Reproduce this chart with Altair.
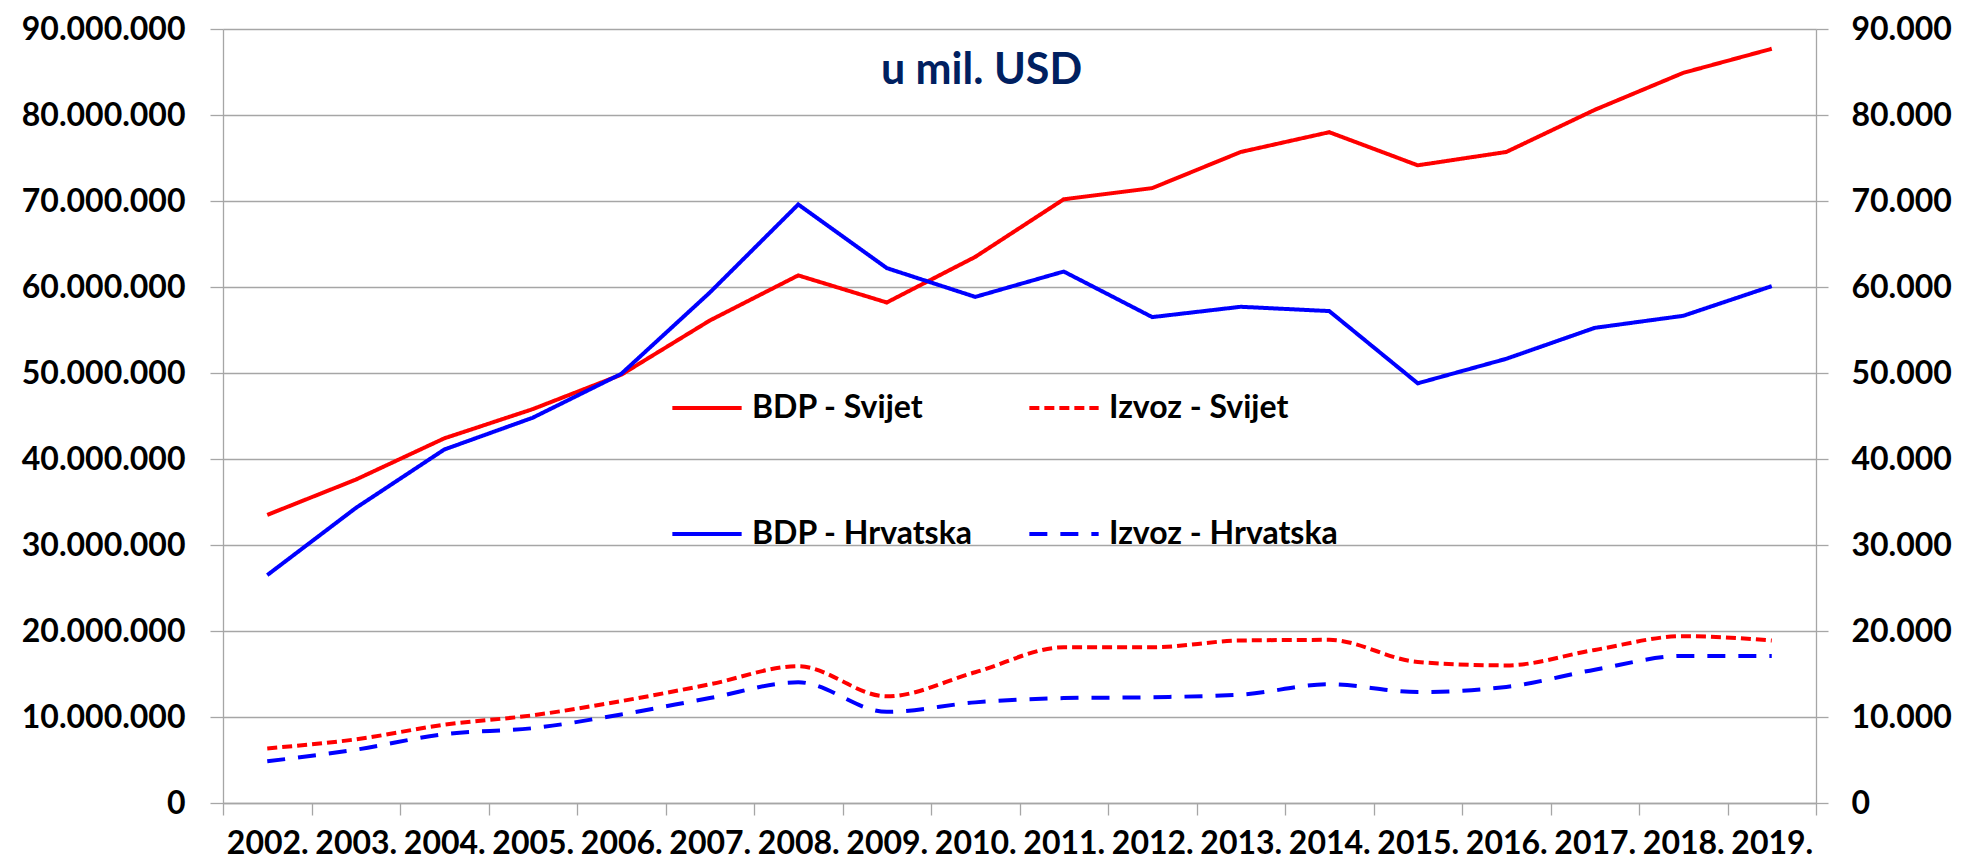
import altair as alt
import pandas as pd

years = ["2002.", "2003.", "2004.", "2005.", "2006.", "2007.", "2008.", "2009.", "2010.",
         "2011.", "2012.", "2013.", "2014.", "2015.", "2016.", "2017.", "2018.", "2019."]

# world (left axis, mil. USD)
bdp_svijet = [33500000, 37600000, 42400000, 45800000, 49800000, 56100000, 61350000, 58200000, 63500000,
              70200000, 71500000, 75700000, 78000000, 74150000, 75700000, 80600000, 84900000, 87700000]
izvoz_svijet = [6350000, 7400000, 9100000, 10200000, 11850000, 13800000, 15900000, 12400000, 15200000,
                18100000, 18100000, 18900000, 18970000, 16400000, 16000000, 17800000, 19400000, 18900000]

# Croatia (right axis, mil. USD)
bdp_hrvatska = [26500, 34300, 41100, 44800, 49900, 59350, 69600, 62200, 58850,
                61800, 56500, 57700, 57200, 48800, 51650, 55250, 56650, 60100]
izvoz_hrvatska = [4850, 6200, 8000, 8700, 10300, 12200, 14040, 10600, 11700,
                  12200, 12300, 12600, 13800, 12900, 13500, 15500, 17100, 17100]

series_names = ["BDP - Svijet", "Izvoz - Svijet", "BDP - Hrvatska", "Izvoz - Hrvatska"]
series_colors = ["#FF0000", "#FF0000", "#0000FF", "#0000FF"]
series_dashes = [[1, 0], [10, 5], [1, 0], [18, 13]]

left_ticks = [0, 10000000, 20000000, 30000000, 40000000, 50000000, 60000000, 70000000, 80000000, 90000000]
right_ticks = [0, 10000, 20000, 30000, 40000, 50000, 60000, 70000, 80000, 90000]

def frame(vals, name):
    return pd.DataFrame({"year": years, "value": vals, "series": name})

world_bdp = frame(bdp_svijet, series_names[0])
world_izv = frame(izvoz_svijet, series_names[1])
hr_bdp = frame(bdp_hrvatska, series_names[2])
hr_izv = frame(izvoz_hrvatska, series_names[3])

FONT = "Lato"
GRID = "#A6A6A6"
num_expr = "replace(format(datum.value, ','), regexp(',', 'g'), '.')"

legend = alt.Legend(
    title=None, orient="none", legendX=447, legendY=342, columns=2, direction="horizontal",
    symbolType="stroke", symbolSize=4800, symbolStrokeWidth=4,
    labelFont=FONT, labelFontSize=32, labelFontWeight="bold", labelColor="black",
    labelOffset=8, rowPadding=73, columnPadding=48, padding=0, labelLimit=400,
)

x_enc = alt.X(
    "year:O", sort=years, bandPosition=0.5,
    scale=alt.Scale(type="band", paddingInner=0, paddingOuter=0),
    axis=alt.Axis(title=None, tickBand="extent", labelAngle=0, labelFont=FONT, labelFontSize=32,
                  labelFontWeight="bold", labelColor="black", labelPadding=38,
                  labelBaseline="alphabetic",
                  tickColor=GRID, tickSize=12, tickWidth=1.3, domainColor=GRID, domainWidth=1.3,
                  grid=False, labelOverlap=False, labelBound=False, labelFlush=False),
)

color_enc = alt.Color("series:N", scale=alt.Scale(domain=series_names, range=series_colors), legend=legend)
dash_enc = alt.StrokeDash("series:N", scale=alt.Scale(domain=series_names, range=series_dashes), legend=legend)

y_left = alt.Y(
    "value:Q", scale=alt.Scale(domain=[0, 90000000], nice=False, zero=True),
    axis=alt.Axis(title=None, orient="left", values=left_ticks, labelExpr=num_expr,
                  labelFont=FONT, labelFontSize=32, labelFontWeight="bold", labelColor="black",
                  labelPadding=25, tickColor=GRID, tickSize=13, tickWidth=1.3,
                  domainColor=GRID, domainWidth=1.3, grid=True, gridColor=GRID, gridWidth=1.3),
)
y_right = alt.Y(
    "value:Q", scale=alt.Scale(domain=[0, 90000], nice=False, zero=True),
    axis=alt.Axis(title=None, orient="right", values=right_ticks, labelExpr=num_expr,
                  labelFont=FONT, labelFontSize=32, labelFontWeight="bold", labelColor="black",
                  labelPadding=23, tickColor=GRID, tickSize=12, tickWidth=1.3,
                  domainColor=GRID, domainWidth=1.3, grid=False),
)

def line(df, y_enc, smooth):
    kw = dict(strokeWidth=4, clip=False)
    if smooth:
        kw["interpolate"] = "monotone"
    return alt.Chart(df).mark_line(**kw).encode(x=x_enc, y=y_enc, color=color_enc, strokeDash=dash_enc)

world = alt.layer(line(world_bdp, y_left, False), line(world_izv, y_left, True))
croatia = alt.layer(line(hr_bdp, y_right, False), line(hr_izv, y_right, True))

chart = alt.layer(world, croatia).resolve_scale(y="independent").properties(
    width=1593, height=774,
    autosize=alt.AutoSizeParams(type="none"),
    padding={"left": 215, "top": 21, "right": 145, "bottom": 57},
    title=alt.TitleParams("u mil. USD", font=FONT, fontSize=43, fontWeight="bold", color="#002060",
                          anchor="middle", baseline="alphabetic", offset=-114, dx=-38),
).configure_view(stroke=None)

chart.save("out.html", embed_options={"renderer": "svg", "actions": False})
